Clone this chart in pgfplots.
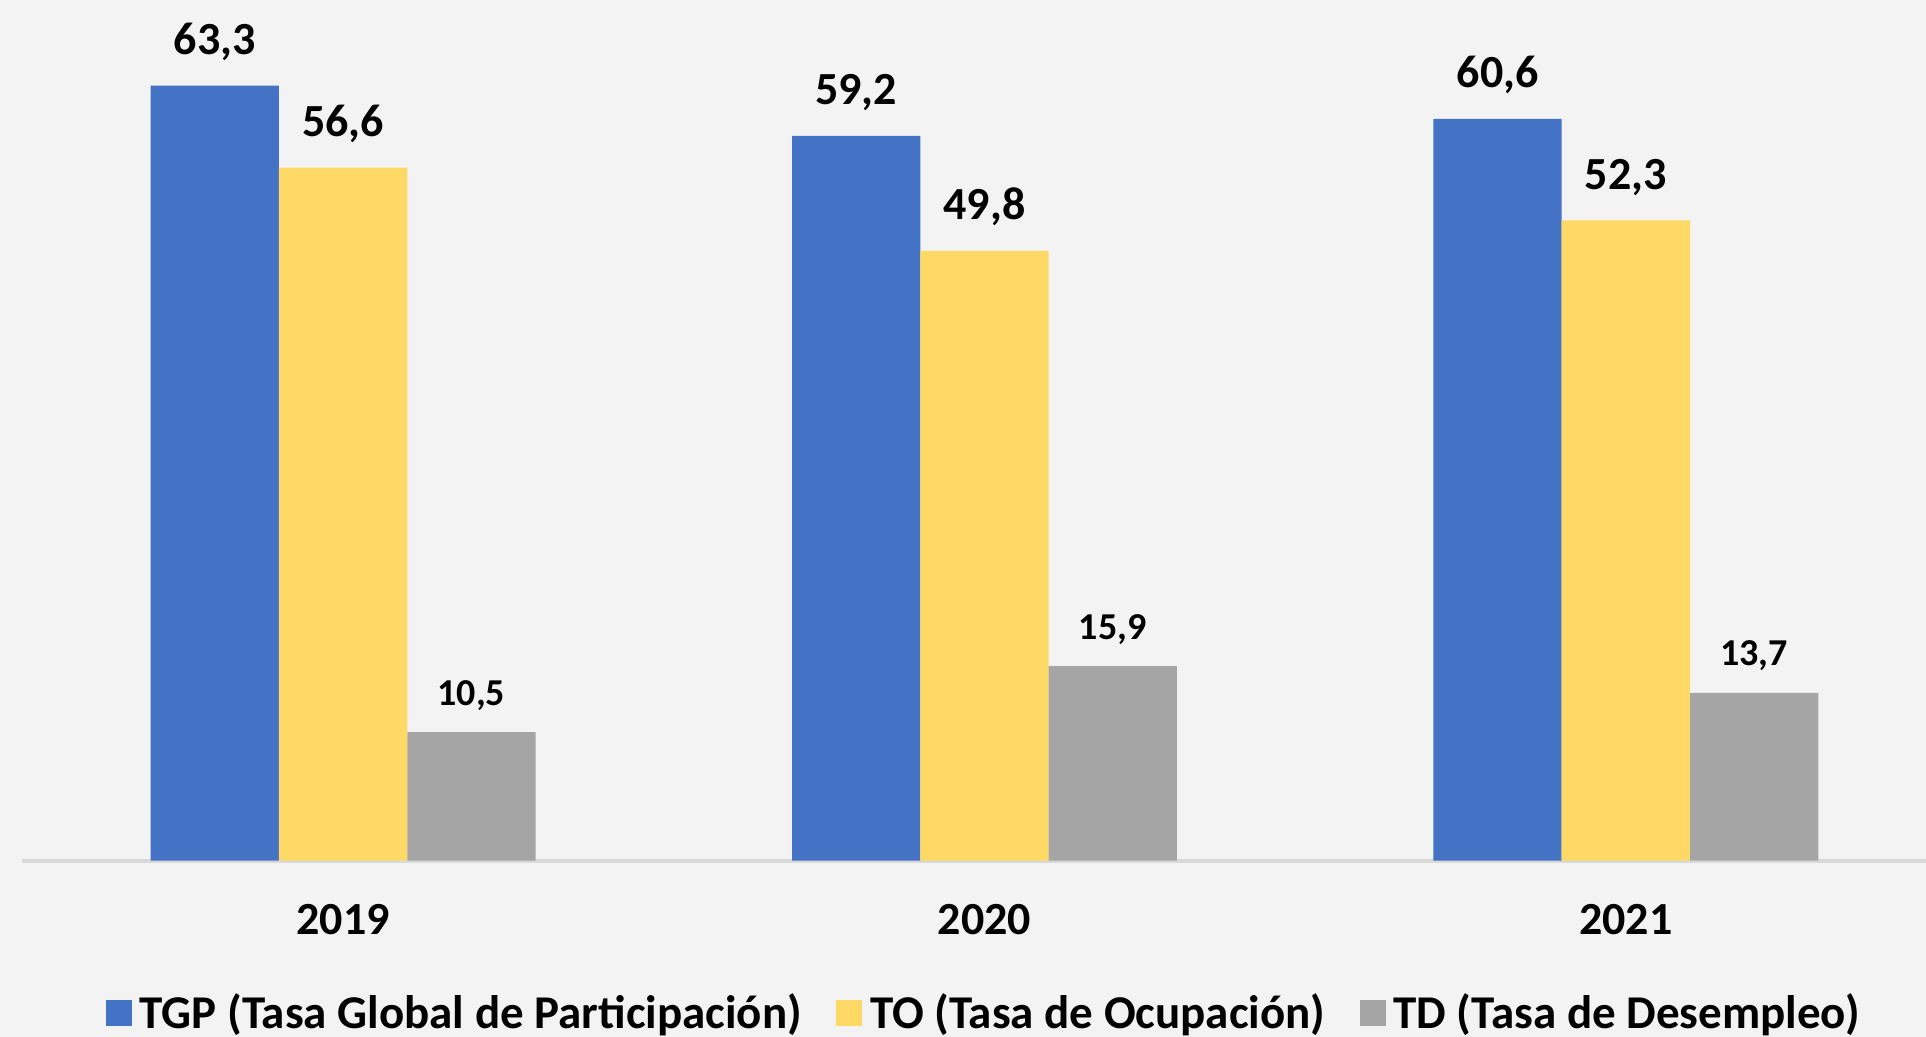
\documentclass[border=0pt]{standalone}
\usepackage{fontspec}
\setmainfont{Carlito}
\usepackage{pgfplots}
\pgfplotsset{compat=1.18}
\definecolor{tgpblue}{HTML}{4472C4}
\definecolor{toyellow}{HTML}{FFD966}
\definecolor{tdgray}{HTML}{A5A5A5}
\definecolor{bgc}{HTML}{F3F3F3}
\definecolor{basegray}{HTML}{D9D9D9}
\newcommand\lblfont{\bfseries\fontsize{11.5}{13.8}\selectfont}
\newcommand\legfont{\bfseries\fontsize{11.75}{14}\selectfont}
\newcommand\smlfont{\bfseries\fontsize{9.5}{11.4}\selectfont}

\begin{document}
\begin{tikzpicture}
\begin{axis}[
  scale only axis, width=481.5pt, height=259.25pt,
  xmin=-0.535, xmax=2.468, ymin=-14.4, ymax=70.3,
  axis x line=middle, axis y line=none,
  x axis line style={draw=none},
  xtick={0,1,2}, xticklabels={2019,2020,2021},
  major tick length=0pt,
  xticklabel style={font=\lblfont, anchor=base, yshift=-18.5pt},
  ytick=\empty,
  ybar=0pt, bar width=0.2,
  axis background/.style={fill=bgc},
  clip=false,
  /pgf/number format/assume math mode=true,
  nodes near coords={\pgfmathprintnumber[fixed,fixed zerofill,precision=1,use comma]{\pgfplotspointmeta}},
  every node near coord/.append style={font=\lblfont, anchor=base, yshift=7.75pt, inner sep=0pt},
  legend columns=3,
  legend image code/.code={\fill[#1] (0pt,-3pt) rectangle (6.5pt,3.5pt);},
  legend style={at={(0.5125,0.022)}, anchor=center, draw=none, fill=none,
    font=\legfont, inner sep=0pt,
    nodes={inner sep=2pt},
    /tikz/every even column/.append style={column sep=6.5pt}},
]
\draw[basegray, line width=1pt] (axis cs:-0.5,0) -- (axis cs:2.468,0);

\addplot[fill=tgpblue, draw=none] coordinates {(0,63.3) (1,59.2) (2,60.6)};
\addlegendentry{TGP (Tasa Global de Participación)}
\addplot[fill=toyellow, draw=none] coordinates {(0,56.6) (1,49.8) (2,52.3)};
\addlegendentry{TO (Tasa de Ocupación)}
\addplot[fill=tdgray, draw=none,
  every node near coord/.append style={font=\smlfont, yshift=-1pt}]
  coordinates {(0,10.5) (1,15.9) (2,13.7)};
\addlegendentry{TD (Tasa de Desempleo)}
\end{axis}
\pgfresetboundingbox
\path[use as bounding box] (current axis.south west) rectangle (current axis.north east);
\end{tikzpicture}
\end{document}
